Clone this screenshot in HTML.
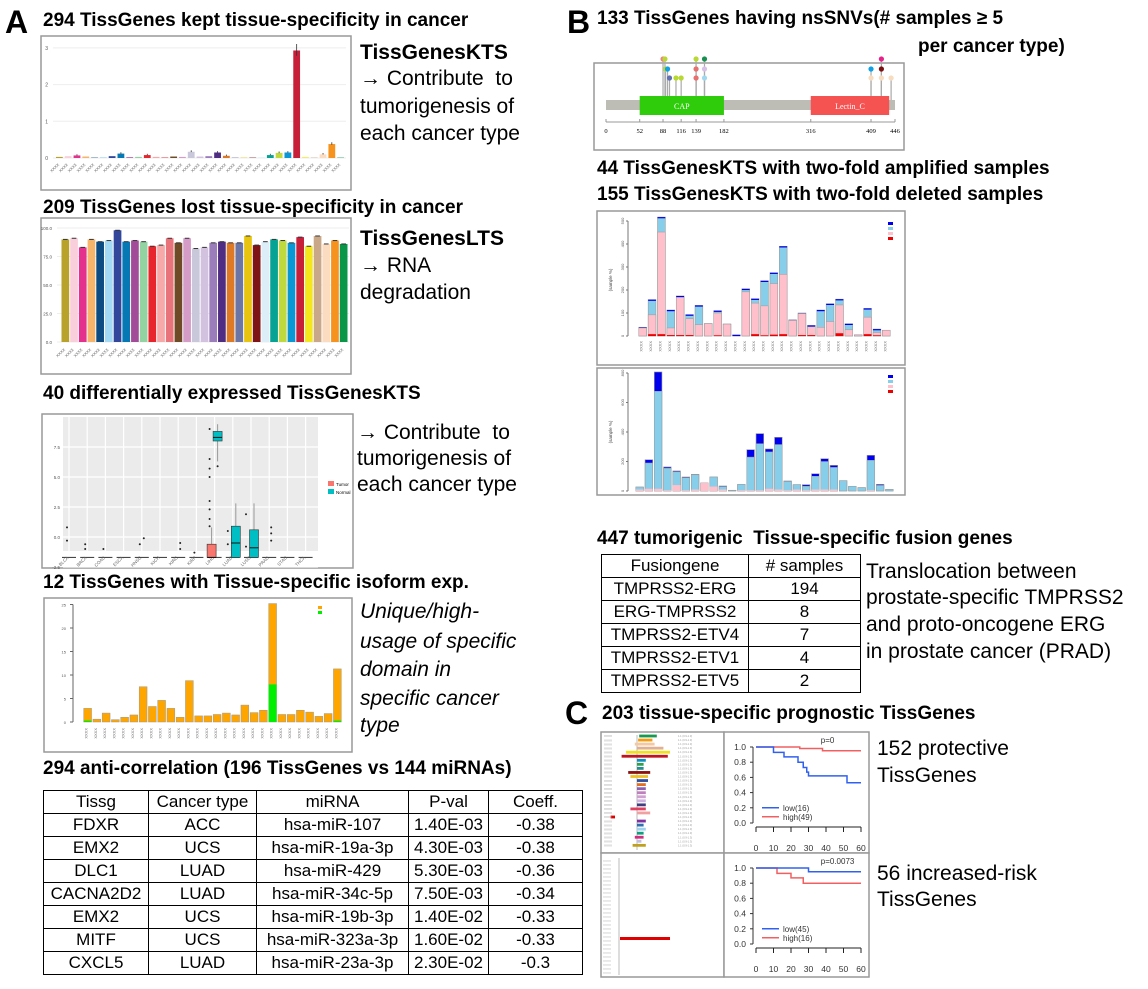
<!DOCTYPE html>
<html><head><meta charset="utf-8">
<style>
body{margin:0;background:#fff;width:1148px;height:989px;position:relative;overflow:hidden;font-family:"Liberation Sans",Arial,sans-serif;color:#000}
.t{position:absolute;white-space:nowrap;line-height:1}
.h{font-weight:bold;font-size:19px}
.r{font-size:21px}
.big{font-weight:bold;font-size:32px}
svg{position:absolute;left:0;top:0}
table{position:absolute;border-collapse:collapse;font-size:17px}
td{border:1px solid #000;text-align:center;padding:0;height:22px;line-height:22px}
</style></head><body>
<div class="t big" style="left:5px;top:6px">A</div>
<div class="t big" style="left:567px;top:6px">B</div>
<div class="t big" style="left:565px;top:697px">C</div>

<div class="t h" style="left:43px;top:11px">294 TissGenes kept tissue-specificity in cancer</div>
<div class="t r" style="left:360px;top:42px;font-weight:bold">TissGenesKTS</div>
<div class="t r" style="left:360px;top:68px">→ Contribute&nbsp; to</div>
<div class="t r" style="left:360px;top:96px">tumorigenesis of</div>
<div class="t r" style="left:360px;top:123px">each cancer type</div>

<div class="t h" style="left:43px;top:198px">209 TissGenes lost tissue-specificity in cancer</div>
<div class="t r" style="left:360px;top:228px;font-weight:bold">TissGenesLTS</div>
<div class="t r" style="left:360px;top:255px">→ RNA</div>
<div class="t r" style="left:360px;top:282px">degradation</div>

<div class="t h" style="left:43px;top:384px">40 differentially expressed TissGenesKTS</div>
<div class="t r" style="left:357px;top:422px">→ Contribute&nbsp; to</div>
<div class="t r" style="left:357px;top:448px">tumorigenesis of</div>
<div class="t r" style="left:357px;top:474px">each cancer type</div>

<div class="t h" style="left:43px;top:573px">12 TissGenes with Tissue-specific isoform exp.</div>
<div class="t r" style="left:360px;top:601px;font-style:italic">Unique/high-</div>
<div class="t r" style="left:360px;top:631px;font-style:italic">usage of specific</div>
<div class="t r" style="left:360px;top:659px;font-style:italic">domain in</div>
<div class="t r" style="left:360px;top:688px;font-style:italic">specific cancer</div>
<div class="t r" style="left:360px;top:715px;font-style:italic">type</div>

<div class="t h" style="left:43px;top:759px">294 anti-correlation (196 TissGenes vs 144 miRNAs)</div>
<table style="left:43px;top:790px;width:540px">
<tr><td style="width:104px">Tissg</td><td style="width:107px">Cancer type</td><td style="width:151px">miRNA</td><td style="width:79px">P-val</td><td>Coeff.</td></tr>
<tr><td>FDXR</td><td>ACC</td><td>hsa-miR-107</td><td>1.40E-03</td><td>-0.38</td></tr>
<tr><td>EMX2</td><td>UCS</td><td>hsa-miR-19a-3p</td><td>4.30E-03</td><td>-0.38</td></tr>
<tr><td>DLC1</td><td>LUAD</td><td>hsa-miR-429</td><td>5.30E-03</td><td>-0.36</td></tr>
<tr><td>CACNA2D2</td><td>LUAD</td><td>hsa-miR-34c-5p</td><td>7.50E-03</td><td>-0.34</td></tr>
<tr><td>EMX2</td><td>UCS</td><td>hsa-miR-19b-3p</td><td>1.40E-02</td><td>-0.33</td></tr>
<tr><td>MITF</td><td>UCS</td><td>hsa-miR-323a-3p</td><td>1.60E-02</td><td>-0.33</td></tr>
<tr><td>CXCL5</td><td>LUAD</td><td>hsa-miR-23a-3p</td><td>2.30E-02</td><td>-0.3</td></tr>
</table>

<div class="t h" style="left:597px;top:9px">133 TissGenes having nsSNVs(# samples ≥ 5</div>
<div class="t h" style="left:918px;top:37px">per cancer type)</div>
<div class="t h" style="left:597px;top:159px">44 TissGenesKTS with two-fold amplified samples</div>
<div class="t h" style="left:597px;top:185px">155 TissGenesKTS with two-fold deleted samples</div>
<div class="t h" style="left:597px;top:529px">447 tumorigenic&nbsp; Tissue-specific fusion genes</div>
<table style="left:601px;top:554px;width:260px">
<tr><td style="width:146px">Fusiongene</td><td># samples</td></tr>
<tr><td>TMPRSS2-ERG</td><td>194</td></tr>
<tr><td>ERG-TMPRSS2</td><td>8</td></tr>
<tr><td>TMPRSS2-ETV4</td><td>7</td></tr>
<tr><td>TMPRSS2-ETV1</td><td>4</td></tr>
<tr><td>TMPRSS2-ETV5</td><td>2</td></tr>
</table>
<div class="t r" style="left:866px;top:561px">Translocation between</div>
<div class="t r" style="left:866px;top:587px">prostate-specific TMPRSS2</div>
<div class="t r" style="left:866px;top:614px">and proto-oncogene ERG</div>
<div class="t r" style="left:866px;top:641px">in prostate cancer (PRAD)</div>
<div class="t h" style="left:602px;top:704px">203 tissue-specific prognostic TissGenes</div>
<div class="t r" style="left:877px;top:738px">152 protective</div>
<div class="t r" style="left:877px;top:765px">TissGenes</div>
<div class="t r" style="left:877px;top:863px">56 increased-risk</div>
<div class="t r" style="left:877px;top:889px">TissGenes</div>

<svg id="s" width="1148" height="989"></svg>
<script>
const palette=["#b8a22c","#f9cfdc","#e4318d","#f7b56b","#0d4c82","#a3d9f5","#32479c","#0679b5","#a24c99","#93d3a2","#e8252c","#f7a8a8","#e9737b","#6e4a27","#d69cc8","#c8c8da","#d2c2e0","#9c7dbb","#4f2d82","#de7a25","#6c76a6","#e7c410","#7f1416","#dceef8","#06a394","#c0d93c","#0a97d6","#c71f3a","#f5e61c","#c9a889","#fbdcc0","#f6921e","#0a9648"];
const ktsValues=[0.03,0.05,0.07,0.04,0.01,0.02,0.05,0.12,0.02,0.03,0.08,0.03,0.02,0.04,0.03,0.17,0.04,0.05,0.15,0.06,0.01,0.01,0.01,0.02,0.08,0.14,0.15,2.93,0.02,0.01,0.1,0.38,0.01];
const ktsTicks=[0,1,2,3];
const ltsValues=[90,91,83,90,88,89,98,88,89,88,84,85,91,87,91,82,83,87,88,87,87,93,85,88,90,89,87,92,84,93,86,89,86];
const ltsTicks=[0,25,50,75,100];
const deCats=["BLCA","BRCA","COAD","ESCA","HNSC","KICH","KIRC","KIRP","LIHC","LUAD","LUSC","PRAD","STAD","THCA"];
const isoTotal=[2.9,0.6,1.9,0.5,1,1.5,7.5,3.3,4.6,2.9,1,8.8,1.3,1.3,1.6,1.9,1.5,3.6,2,2.5,25.2,1.6,1.6,2.5,2.1,1.2,1.8,11.3];
const isoGreen=[0.3,0,0,0,0,0,0,0,0,0,0,0,0,0,0,0,0,0,0,0,8,0,0,0,0,0,0,0.3];
const ampTotal=[38,158,517,113,174,93,133,54,110,52,5,205,162,240,275,390,70,100,46,113,140,160,53,5,120,30,25];
const ampPink=[35,92,452,35,168,75,49,54,100,52,0,192,143,131,228,268,68,98,40,38,63,135,27,5,82,15,25];
const ampRed=[0,8,8,4,4,4,0,0,3,0,0,0,8,3,6,8,0,4,4,0,0,12,0,0,8,3,0];
const delTotal=[27,212,807,163,136,95,113,54,95,34,5,45,280,389,285,364,68,43,43,117,219,174,70,32,23,242,45,11];
const delLight=[27,190,676,155,130,90,110,54,95,30,5,45,230,321,265,315,65,43,33,100,200,160,70,32,23,208,38,11];
const delPink=[10,15,15,5,40,5,10,54,30,10,0,5,5,5,15,10,5,10,5,10,10,10,0,0,0,5,0,0];
const ampTicks=[0,100,200,300,400,500];
const delTicks=[0,200,400,600,800];
const snvPos=[88,91,92,95,98,108,116,139,139,139,152,152,152,409,409,425,425,425,440];
const snvLevel=[3,3,2,2,1,1,1,3,2,1,3,2,1,2,1,3,2,1,1];
const snvColor=["#f08080","#b8d832","#b8d832","#10a0e8","#6070b0","#b8d832","#b8d832","#b8d832","#e87070","#e87070","#189050","#d8c0e8","#a0d8f0","#10a0e8","#f8dcc0","#e8208a","#7a1010","#f8dcc0","#f8dcc0"];
const kmLowT1=[0,10,16,24,27,29,30,52,60], kmLowS1=[1,0.93,0.87,0.8,0.73,0.67,0.62,0.53,0.53];
const kmHighT1=[0,25,38,60], kmHighS1=[1,0.98,0.95,0.95];
const kmLowT2=[0,30,60], kmLowS2=[1,0.95,0.95];
const kmHighT2=[0,12,20,27,60], kmHighS2=[1,0.93,0.87,0.8,0.8];
const kmTicksX=[0,10,20,30,40,50,60], kmTicksY=[0,0.2,0.4,0.6,0.8,1.0];

const S=document.getElementById('s');const NS="http://www.w3.org/2000/svg";
function mk(tag,a,p){const e=document.createElementNS(NS,tag);for(const k in a)e.setAttribute(k,a[k]);(p||S).appendChild(e);return e;}
function txt(x,y,s,a){const e=mk('text',Object.assign({x:x,y:y,'font-family':'Liberation Sans, sans-serif'},a||{}));e.textContent=s;return e;}
function frame(x,y,w,h,name){const r=mk('rect',{x:x,y:y,width:w,height:h,fill:'#fff',stroke:'#999','stroke-width':1.5});}

// Chart 1
frame(41,36,310,154,'kept-chart-frame');
(function(){const y=v=>158-v*36.7, x0=55,x1=345,n=ktsValues.length,bw=(x1-x0)/n;
ktsTicks.forEach(t=>{mk('line',{x1:53,x2:346,y1:y(t),y2:y(t),stroke:'#eee'});txt(48,y(t)+2,t,{'font-size':5,'text-anchor':'end',fill:'#555'});});
ktsValues.forEach((v,i)=>{const b=mk('rect',{x:x0+i*bw+1,y:y(v),width:bw-2,height:158-y(v),fill:palette[i%palette.length]});
if(v>0.05)mk('line',{x1:x0+i*bw+bw/2,x2:x0+i*bw+bw/2,y1:y(v*1.05+0.03),y2:y(v*0.95),stroke:'#333','stroke-width':0.8});
txt(x0+i*bw+bw/2,165,'XXXX',{'font-size':4,fill:'#666','text-anchor':'end',transform:`rotate(-45 ${x0+i*bw+bw/2} 165)`});});})();

// Chart 2
frame(41,218,310,156,'lost-chart-frame');
(function(){const y=v=>342-v*1.14, x0=61,x1=348,n=ltsValues.length,bw=(x1-x0)/n;
ltsTicks.forEach(t=>{mk('line',{x1:57,x2:349,y1:y(t),y2:y(t),stroke:'#eee'});txt(52,y(t)+2,t.toFixed(1),{'font-size':4.5,'text-anchor':'end',fill:'#555'});});
ltsValues.forEach((v,i)=>{const b=mk('rect',{x:x0+i*bw+0.5,y:y(v),width:bw-1,height:342-y(v),fill:palette[i]});
mk('line',{x1:x0+i*bw+2,x2:x0+(i+1)*bw-2,y1:y(v),y2:y(v),stroke:'#333','stroke-width':1});
txt(x0+i*bw+bw/2,350,'XXXX',{'font-size':4,fill:'#666','text-anchor':'end',transform:`rotate(-45 ${x0+i*bw+bw/2} 350)`});});})();

// Chart 3 boxplot
frame(42,414,311,154,'de-chart-frame');
(function(){mk('rect',{x:63,y:417,width:255,height:134,fill:'#ebebeb'});const y=v=>537-v*12,x=i=>69+i*18.2;
[-2.5,0,2.5,5,7.5].forEach(t=>{mk('line',{x1:63,x2:318,y1:y(t),y2:y(t),stroke:'#fff','stroke-width':1.2});txt(60,y(t)+2,t.toFixed(1),{'font-size':4.5,'text-anchor':'end',fill:'#555'});});
deCats.forEach((c,i)=>{mk('line',{x1:x(i),x2:x(i),y1:417,y2:551,stroke:'#fff','stroke-width':1.2});
mk('line',{x1:x(i)-7,x2:x(i)+7,y1:y(-1.7),y2:y(-1.7),stroke:'#333','stroke-width':1});
const l=txt(x(i),558,c,{'font-size':4.5,fill:'#666','text-anchor':'end',transform:`rotate(-45 ${x(i)} 558)`});});
const box=(i,off,lo,q1,med,q3,hi,col)=>{const cx=x(i)+off;mk('line',{x1:cx,x2:cx,y1:y(lo),y2:y(hi),stroke:'#999'});const b=mk('rect',{x:cx-4.5,y:y(q3),width:9,height:y(q1)-y(q3),fill:col,stroke:'#333','stroke-width':0.6});mk('line',{x1:cx-4.5,x2:cx+4.5,y1:y(med),y2:y(med),stroke:'#111'});};
box(8,-3,-1.7,-1.7,-1.7,-0.6,0.8,'#f8766d');box(8,3,6.3,8,8.3,8.8,9.4,'#00bfc4');box(9,3,-1.7,-1.7,-0.5,0.9,2.8,'#00bfc4');box(10,3,-1.7,-1.7,-0.9,0.6,2.8,'#00bfc4');
[[0,-2,0.8],[0,-2,-0.3],[1,-2,-0.6],[1,-2,-1],[2,-2,-1],[4,-2,-0.6],[4,2,-0.1],[6,2,-0.5],[6,2,-1],[7,-2,-1.3],[8,-5,9],[8,-5,6.5],[8,-5,5.7],[8,-5,5],[8,-5,3],[8,-5,2.3],[8,-5,1.5],[8,-5,0.9],[8,3,5.9],[9,-5,0.5],[9,-5,-0.6],[10,-5,1.9],[10,-5,-0.8],[11,2,0.8],[11,2,0.3],[11,2,-0.3]].forEach(p=>mk('circle',{cx:x(p[0])+p[1],cy:y(p[2]),r:1,fill:'#222'}));
mk('rect',{x:328,y:481,width:6,height:5,fill:'#f8766d'});mk('rect',{x:328,y:489,width:6,height:5,fill:'#00bfc4'});
txt(336,486,'Tumor',{'font-size':4.5});txt(336,494,'Normal',{'font-size':4.5});})();

// Chart 4 isoform
frame(44,598,308,154,'isoform-chart-frame');
(function(){const y=v=>722-v*4.7,x0=83,bw=(342-83)/isoTotal.length;
[0,5,10,15,20,25].forEach(t=>{mk('line',{x1:70,x2:73,y1:y(t),y2:y(t),stroke:'#666'});txt(66,y(t)+2,t,{'font-size':4,'text-anchor':'end',fill:'#555'});});mk('line',{x1:73,x2:73,y1:y(0),y2:y(25),stroke:'#666'});
isoTotal.forEach((v,i)=>{const b=mk('rect',{x:x0+i*bw+0.7,y:y(v),width:bw-1.4,height:722-y(v),fill:'#ffa500',stroke:'#999','stroke-width':0.5});
if(isoGreen[i]>0)mk('rect',{x:x0+i*bw+0.7,y:y(isoGreen[i]),width:bw-1.4,height:722-y(isoGreen[i]),fill:'#00ee00'});
txt(x0+i*bw+bw/2,728,'XXXX',{'font-size':4,fill:'#666','text-anchor':'end',transform:`rotate(-90 ${x0+i*bw+bw/2} 728)`});});
mk('rect',{x:318,y:606,width:4,height:3,fill:'#ffa500'});mk('rect',{x:318,y:611,width:4,height:3,fill:'#00ee00'});})();

// Lollipop
frame(594,63,310,87,'lollipop-frame');
(function(){const x=a=>606+a*(289/446);const ly={1:78,2:69,3:59};
mk('rect',{x:606,y:100,width:289,height:10,fill:'#bdbdb6'});
snvPos.forEach((p,i)=>mk('line',{x1:x(p),x2:x(p),y1:100,y2:ly[snvLevel[i]],stroke:'#aaa','stroke-width':1.2}));
snvPos.forEach((p,i)=>{const c=mk('circle',{cx:x(p),cy:ly[snvLevel[i]],r:2.6,fill:snvColor[i]});});
mk('rect',{x:x(52),y:96,width:x(182)-x(52),height:19,fill:'#2ecc0a'});txt((x(52)+x(182))/2,109,'CAP',{'font-size':8,fill:'#fff','text-anchor':'middle','font-family':'Liberation Serif, serif'});
mk('rect',{x:x(316),y:96,width:x(437)-x(316),height:19,fill:'#f55252'});txt((x(316)+x(437))/2,109,'Lectin_C',{'font-size':8,fill:'#fff','text-anchor':'middle','font-family':'Liberation Serif, serif'});
mk('line',{x1:606,x2:895,y1:122,y2:122,stroke:'#999'});
[0,52,88,116,139,182,316,409,446].forEach(t=>{mk('line',{x1:x(t),x2:x(t),y1:119,y2:122,stroke:'#999'});txt(x(t),133,t,{'font-size':6.5,'text-anchor':'middle','font-family':'Liberation Serif, serif'});});})();

// CNV amplified
frame(597,211,308,154,'amplified-chart-frame');
(function(){const y=v=>336-v*0.23,n=ampTotal.length,x0=638,bw=(891-x0)/n;
mk('line',{x1:628,x2:628,y1:y(0),y2:y(500),stroke:'#777'});ampTicks.forEach(t=>{mk('line',{x1:626,x2:628,y1:y(t),y2:y(t),stroke:'#777'});txt(624,y(t),t,{'font-size':4,'text-anchor':'middle',fill:'#555',transform:`rotate(-90 624 ${y(t)})`});});
txt(612,280,'(sample %)',{'font-size':4.5,fill:'#444','text-anchor':'middle',transform:'rotate(-90 612 280)'});
ampTotal.forEach((v,i)=>{const bx=x0+i*bw+0.8,w=bw-1.6;const b=mk('rect',{x:bx,y:y(v),width:w,height:336-y(v),fill:'#87ceeb',stroke:'#999','stroke-width':0.6});
mk('rect',{x:bx,y:y(v),width:w,height:1.2,fill:'#0000ee'});mk('rect',{x:bx,y:y(ampPink[i]),width:w,height:336-y(ampPink[i]),fill:'#ffc0cb',stroke:'#999','stroke-width':0.5});
if(ampRed[i])mk('rect',{x:bx,y:y(ampRed[i]),width:w,height:336-y(ampRed[i]),fill:'#e00'});
txt(bx+w/2,341,'XXXX',{'font-size':4,fill:'#666','text-anchor':'end',transform:`rotate(-90 ${bx+w/2} 341)`});});
[['#0000ee',222],['#87ceeb',227],['#ffc0cb',232],['#e00',237]].forEach(a=>mk('rect',{x:888,y:a[1],width:5,height:3,fill:a[0]}));})();

// CNV deleted
frame(597,368,308,127,'deleted-chart-frame');
(function(){const y=v=>491-v*0.1475,n=delTotal.length,x0=635,bw=(894-x0)/n;
mk('line',{x1:628,x2:628,y1:y(0),y2:y(800),stroke:'#777'});delTicks.forEach(t=>{mk('line',{x1:626,x2:628,y1:y(t),y2:y(t),stroke:'#777'});txt(624,y(t),t,{'font-size':4,'text-anchor':'middle',fill:'#555',transform:`rotate(-90 624 ${y(t)})`});});
txt(612,432,'(sample %)',{'font-size':4.5,fill:'#444','text-anchor':'middle',transform:'rotate(-90 612 432)'});
delTotal.forEach((v,i)=>{const bx=x0+i*bw+0.8,w=bw-1.6;const b=mk('rect',{x:bx,y:y(v),width:w,height:491-y(v),fill:'#0000ee',stroke:'#999','stroke-width':0.6});
mk('rect',{x:bx,y:y(delLight[i]),width:w,height:491-y(delLight[i]),fill:'#87ceeb',stroke:'#999','stroke-width':0.5});
if(delPink[i])mk('rect',{x:bx,y:y(delPink[i]),width:w,height:491-y(delPink[i]),fill:'#ffc0cb'});});
[['#0000ee',375],['#87ceeb',380],['#ffc0cb',385],['#e00',390]].forEach(a=>mk('rect',{x:888,y:a[1],width:5,height:3,fill:a[0]}));})();

// Forest plots
(function(){frame(601,732,123,121,'forest-plot-protective');frame(601,853,123,124,'forest-plot-risk');
const rows1=[[0.1,0.9,'#1a9850'],[0.05,0.7,'#f39c12'],[-0.1,0.8,'#f6c8a0'],[0,1.2,'#e0b090'],[-0.5,1.5,'#f0e020'],[-0.7,1.4,'#c0141e'],[0,0.4,'#1090c0'],[0,0.3,'#30a050'],[0,0.3,'#209090'],[-0.4,0.6,'#8b1010'],[-0.3,0.5,'#f0c020'],[0,0.5,'#3050a0'],[0,0.4,'#e07020'],[0,0.4,'#9060b0'],[0,0.4,'#c080c0'],[0,0.4,'#d0a0d0'],[0,0.4,'#d0b0e0'],[0,0.4,'#404080'],[-0.3,0.4,'#e04060'],[0,0.6,'#f0a0a0'],[-1.2,-1,'#e00000'],[0,0.4,'#8030a0'],[0,0.3,'#3070b0'],[0,0.4,'#a0d0f0'],[0,0.3,'#10a080'],[-0.1,0.3,'#d03080'],[0,0.2,'#c0c0e0'],[-0.2,0.4,'#c0a020']];
const cx=637,sc=22;mk('line',{x1:cx,x2:cx,y1:735,y2:850,stroke:'#bbb'});
rows1.forEach((r,i)=>{const yy=736+i*4.05;mk('rect',{x:cx+r[0]*sc,y:yy-1.4,width:Math.max(2,(r[1]-r[0])*sc),height:2.8,fill:r[2]});
txt(604,yy+1.2,'XXXX',{'font-size':3,fill:'#999'});txt(678,yy+1,'1.1 (0.9-1.3)',{'font-size':2.6,fill:'#999'});});
mk('line',{x1:619,x2:619,y1:858,y2:975,stroke:'#bbb'});
for(let i=0;i<29;i++){const yy=861+i*4;txt(603,yy+1,'XXXX',{'font-size':3,fill:'#bbb'});}
mk('rect',{x:620,y:937,width:50,height:3,fill:'#e00000'});})();

// KM plots
function km(top,h,lowT,lowS,highT,highS,p,lowLab,highLab,name){
frame(724,top,145,h,name);
const yTop=top+15,yBot=top+91,axisY=top+95;
const x=t=>756+t*(105/60),y=s=>yBot-s*(yBot-yTop);
kmTicksY.forEach(t=>{txt(746,y(t)+3,t.toFixed(1),{'font-size':8.5,'text-anchor':'end',fill:'#333'});mk('line',{x1:750,x2:753,y1:y(t),y2:y(t),stroke:'#333'});});
mk('line',{x1:753,x2:753,y1:y(0),y2:y(1),stroke:'#333'});
mk('line',{x1:x(0),x2:x(60),y1:axisY,y2:axisY,stroke:'#222'});
kmTicksX.forEach(t=>{mk('line',{x1:x(t),x2:x(t),y1:axisY,y2:axisY+5,stroke:'#222'});txt(x(t),axisY+24,t,{'font-size':8.5,'text-anchor':'middle',fill:'#333'});});
const path=(T,Sv)=>{let d=`M${x(T[0])},${y(Sv[0])}`;for(let i=1;i<T.length;i++)d+=`H${x(T[i])}V${y(Sv[i])}`;return d;};
const a=mk('path',{d:path(highT,highS),fill:'none',stroke:'#f06060','stroke-width':1.5});
const b=mk('path',{d:path(lowT,lowS),fill:'none',stroke:'#3060f0','stroke-width':1.5});
txt(x(37),top+11,p,{'font-size':8,fill:'#333'});
const lg=y(0.2);mk('line',{x1:762,x2:779,y1:lg,y2:lg,stroke:'#3060f0','stroke-width':1.5});txt(783,lg+3,lowLab,{'font-size':8,fill:'#333'});
mk('line',{x1:762,x2:779,y1:lg+9,y2:lg+9,stroke:'#f06060','stroke-width':1.5});txt(783,lg+12,highLab,{'font-size':8,fill:'#333'});}
km(732,121,kmLowT1,kmLowS1,kmHighT1,kmHighS1,'p=0','low(16)','high(49)','km-plot-protective');
km(853,124,kmLowT2,kmLowS2,kmHighT2,kmHighS2,'p=0.0073','low(45)','high(16)','km-plot-risk');
</script>
</body></html>
